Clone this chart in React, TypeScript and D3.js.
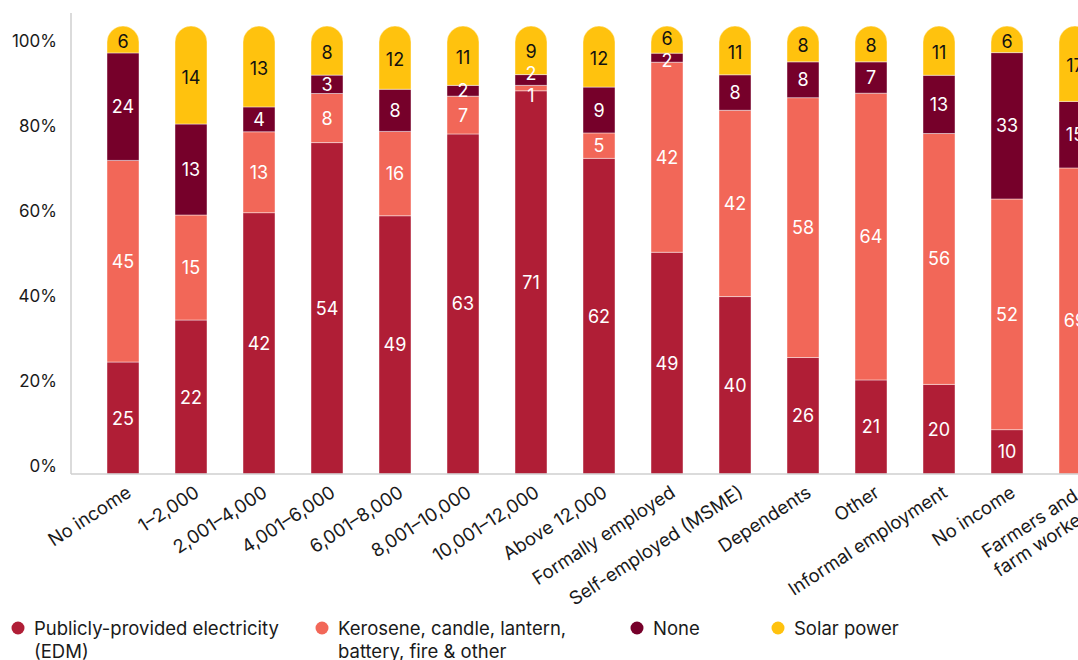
import React, { useEffect } from "react";
import * as d3 from "d3";

const categories = [
  "No income",
  "1–2,000",
  "2,001–4,000",
  "4,001–6,000",
  "6,001–8,000",
  "8,001–10,000",
  "10,001–12,000",
  "Above 12,000",
  "Formally employed",
  "Self-employed (MSME)",
  "Dependents",
  "Other",
  "Informal employment",
  "No income",
  "Farmers and\nfarm workers",
];

const edm = [25, 22, 42, 54, 49, 63, 71, 62, 49, 40, 26, 21, 20, 10, 0];
const kerosene = [45, 15, 13, 8, 16, 7, 1, 5, 42, 42, 58, 64, 56, 52, 69];
const none = [24, 13, 4, 3, 8, 2, 2, 9, 2, 8, 8, 7, 13, 33, 15];
const solar = [6, 14, 13, 8, 12, 11, 9, 12, 6, 11, 8, 8, 11, 6, 17];

const yTicks = [0, 20, 40, 60, 80, 100];

const seriesNames = [
  "Publicly-provided electricity\n(EDM)",
  "Kerosene, candle, lantern,\nbattery, fire & other",
  "None",
  "Solar power",
];
const seriesColors = ["#B01E36", "#F26758", "#76002A", "#FFC20E"];
const labelColors = ["#ffffff", "#ffffff", "#ffffff", "#111111"];

const W = 1078;
const H = 660;
const FONT = "Inter, 'Noto Sans', sans-serif";
const XFS = 18.5;

let measureCtx: CanvasRenderingContext2D | null = null;
function textWidth(s: string, size: number) {
  if (typeof document === "undefined") return s.length * size * 0.55;
  if (!measureCtx) measureCtx = document.createElement("canvas").getContext("2d");
  if (!measureCtx) return s.length * size * 0.55;
  measureCtx.font = `${size}px Inter, 'Noto Sans', sans-serif`;
  return measureCtx.measureText(s).width;
}

export default function App() {
  useEffect(() => {
    document.body.style.margin = "0";
  }, []);

  const series = [edm, kerosene, none, solar];
  const rows = categories.map((c, i) => {
    const vals = series.map((s) => s[i]);
    const total = d3.sum(vals);
    return { key: i, c, vals, total };
  });

  const x = d3
    .scaleBand<number>()
    .domain(rows.map((r) => r.key))
    .range([71, 1127])
    .paddingInner(36 / 68)
    .paddingOuter(36 / 68);

  const y = d3.scaleLinear().domain([0, 1]).range([474, 26]);
  const yLabel = d3.scaleLinear().domain([0, 100]).range([466, 41]);

  const bw = x.bandwidth();
  const r = bw / 2;

  const segs: any[] = [];
  const labels: any[] = [];
  rows.forEach((row) => {
    let acc = 0;
    const x0 = x(row.key)!;
    const lastIdx = row.vals.reduce((m, v, j) => (v > 0 ? j : m), 0);
    const barLabels: any[] = [];
    row.vals.forEach((v, j) => {
      const f0 = acc / row.total;
      acc += v;
      const f1 = acc / row.total;
      if (v <= 0) return;
      const yb = y(f0);
      const yt = y(f1);
      let d: string;
      if (j === lastIdx) {
        d = `M${x0},${yb}L${x0},${yt + r}A${r},${r} 0 0 1 ${x0 + bw},${yt + r}L${x0 + bw},${yb}Z`;
      } else {
        d = `M${x0},${yb}L${x0},${yt}L${x0 + bw},${yt}L${x0 + bw},${yb}Z`;
      }
      segs.push({ key: `${row.key}-${j}`, d, color: seriesColors[j] });
      barLabels.push({
        key: `${row.key}-${j}`,
        label: v,
        lx: x0 + bw / 2,
        ly: (yb + yt) / 2 + (j === lastIdx ? 2 : 0),
        lc: labelColors[j],
      });
    });
    // simple relaxation so small-segment labels do not overlap
    const minGap = 22;
    for (let it = 0; it < 20; it++) {
      for (let k = 0; k < barLabels.length - 1; k++) {
        const a = barLabels[k];
        const b = barLabels[k + 1];
        const gap = a.ly - b.ly;
        if (gap < minGap) {
          const push = (minGap - gap) / 2;
          a.ly += push;
          b.ly -= push;
        }
      }
    }
    labels.push(...barLabels);
  });

  return (
    <svg width={W} height={H} style={{ display: "block", fontFamily: FONT }}>
      {/* y axis */}
      <line x1={71} x2={71} y1={13} y2={474} stroke="#cfcfcf" strokeWidth={1.5} />
      {yTicks.map((t) => (
        <text
          key={t}
          x={57}
          y={yLabel(t)}
          textAnchor="end"
          dominantBaseline="central"
          fontSize={17}
          fill="#1a1a1a"
        >
          {t}%
        </text>
      ))}

      {/* bars */}
      {segs.map((s) => (
        <path key={s.key} d={s.d} fill={s.color} stroke="#ffffff" strokeOpacity={0.55} strokeWidth={0.8} />
      ))}
      {labels.map((s) => (
        <text
          key={"l" + s.key}
          x={s.lx}
          y={s.ly}
          textAnchor="middle"
          dominantBaseline="central"
          fontSize={18}
          fill={s.lc}
        >
          {s.label}
        </text>
      ))}

      {/* x axis */}
      <line x1={71} x2={W} y1={474} y2={474} stroke="#cfcfcf" strokeWidth={1.5} />
      {rows.map((row) => {
        const cx = x(row.key)! + bw / 2;
        const lines = row.c.split("\n");
        const widths = lines.map((ln) => textWidth(ln, XFS));
        const maxW = Math.max(...widths);
        return (
          <text
            key={"x" + row.key}
            transform={`translate(${cx + 2},${484}) rotate(-33)`}
            textAnchor="start"
            fontSize={XFS}
            fill="#1a1a1a"
          >
            {lines.map((ln, k) => (
              <tspan key={k} x={-maxW} dy={k === 0 ? "0.75em" : "1.2em"}>
                {ln}
              </tspan>
            ))}
          </text>
        );
      })}

      {/* legend */}
      {seriesNames.map((name, j) => {
        const lx = [18, 322, 637, 778][j];
        const lines = name.split("\n");
        return (
          <g key={"lg" + j}>
            <circle cx={lx} cy={628} r={6.5} fill={seriesColors[j]} />
            <text x={lx + 16} y={628} fontSize={18.5} fill="#1a1a1a" dominantBaseline="central">
              {lines.map((ln, k) => (
                <tspan key={k} x={lx + 16} dy={k === 0 ? 0 : 23}>
                  {ln}
                </tspan>
              ))}
            </text>
          </g>
        );
      })}
    </svg>
  );
}
